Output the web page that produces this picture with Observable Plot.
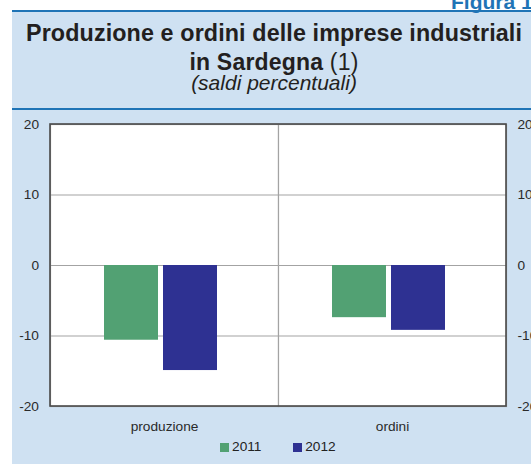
<!DOCTYPE html>
<html><head><meta charset="utf-8">
<script src="https://cdn.jsdelivr.net/npm/d3@7"></script>
<script src="https://cdn.jsdelivr.net/npm/@observablehq/plot@0.6"></script>
<style>
html,body{margin:0;padding:0;background:#fff;width:531px;height:464px;overflow:hidden;position:relative;font-family:"Liberation Sans",Arial,sans-serif;}
#panel{position:absolute;left:12px;top:12px;right:0;bottom:0;background:#cfe1f2;}
.bl{position:absolute;left:12px;right:0;height:2px;background:#1f74b6;}
.t{position:absolute;left:0;width:548px;text-align:center;color:#231f20;white-space:nowrap;}
#fig{position:absolute;left:451px;top:-9.3px;font-size:21px;line-height:21px;font-weight:bold;color:#1f74b6;white-space:nowrap;}
#chart{position:absolute;left:0;top:110px;}
#legend{position:absolute;left:50px;width:456px;top:440px;text-align:center;font-size:13.7px;line-height:13.7px;color:#222;white-space:nowrap;}
.item{display:inline-block;}
.sw{display:inline-block;width:8.3px;height:8.3px;margin-right:3.4px;vertical-align:baseline;margin-bottom:-0.7px;}
</style></head>
<body>
<div id="panel"></div>
<div class="bl" style="top:10.3px"></div>
<div class="bl" style="top:107.5px"></div>
<div id="fig">Figura 1.</div>
<div class="t" style="top:23.4px;font-size:23.3px;line-height:20px;font-weight:bold;letter-spacing:0.12px">Produzione e ordini delle imprese industriali</div>
<div class="t" style="top:52px;font-size:23px;line-height:20px;letter-spacing:0.2px"><b>in Sardegna</b> (1)</div>
<div class="t" style="top:74.4px;font-size:21px;line-height:18px;font-style:italic">(saldi percentuali)</div>
<div id="chart"></div>
<div id="legend"></div>
<script>
const categories = ["produzione", "ordini"];
const years = ["2011", "2012"];
const values2011 = [-10.6, -7.4];
const values2012 = [-14.9, -9.2];
const yTicks = [-20, -10, 0, 10, 20];
const yGrid = [-10, 0, 10];
const colors = ["#52a173", "#2e3192"];

const data = categories.flatMap((c, i) => [
  {cat: c, year: years[0], value: values2011[i]},
  {cat: c, year: years[1], value: values2012[i]}
]);

const W = 531, H = 330, ml = 50, mr = 25, mt = 14, mb = 34;
const fmt = d => String(d);
const chart = Plot.plot({
  width: W, height: H,
  marginLeft: ml, marginRight: mr, marginTop: mt, marginBottom: mb,
  style: {background: "transparent", fontFamily: "'Liberation Sans', Arial, sans-serif", fontSize: "13.7px", color: "#2a2a2a", overflow: "visible"},
  fx: {domain: categories, padding: 0, label: null},
  x: {domain: years, paddingInner: 0.085, paddingOuter: 0.968, align: 0.47, axis: null},
  y: {domain: [-20, 20], label: null},
  color: {domain: years, range: colors},
  marks: [
    Plot.frame({fill: "white", stroke: "#a3a3a3", strokeWidth: 1.2}),
    Plot.gridY(yGrid, {stroke: "#a3a3a3", strokeOpacity: 1, strokeWidth: 1.2}),
    Plot.barY(data, {fx: "cat", x: "year", y: "value", fill: "year"}),
    Plot.axisFx({anchor: "bottom", tickSize: 0, tickPadding: 15, label: null}),
    Plot.axisY(yTicks, {anchor: "left", tickSize: 0, tickPadding: 11.5, label: null, tickFormat: fmt}),
    Plot.axisY(yTicks, {anchor: "right", tickSize: 0, tickPadding: 11, label: null, tickFormat: fmt})
  ]
});
d3.select(chart).append("rect")
  .attr("x", ml).attr("y", mt)
  .attr("width", W - ml - mr).attr("height", H - mt - mb)
  .attr("fill", "none").attr("stroke", "#4a4a4a").attr("stroke-width", 1.6);
document.getElementById("chart").appendChild(chart);

const legend = d3.select("#legend");
years.forEach((y, i) => {
  const it = legend.append("span").attr("class", "item").style("margin-left", i ? "32px" : "0");
  it.append("span").attr("class", "sw").style("background", colors[i]);
  it.append("span").text(y);
});
</script>
</body></html>
